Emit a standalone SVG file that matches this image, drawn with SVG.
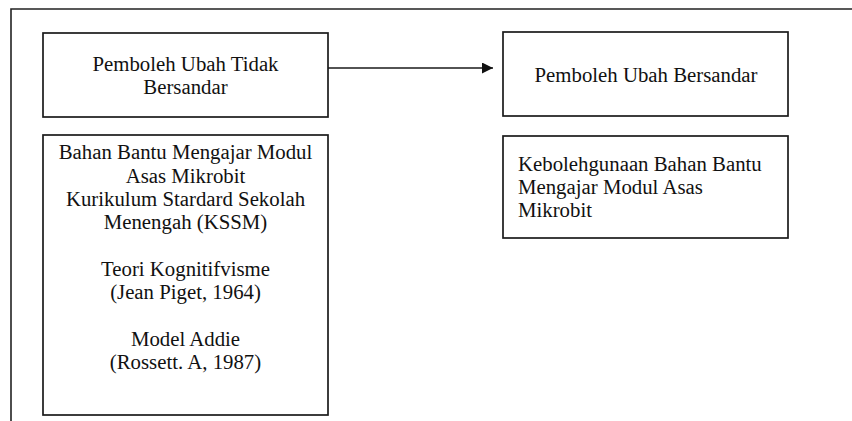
<svg xmlns="http://www.w3.org/2000/svg" width="852" height="421" viewBox="0 0 852 421">
<style>
.box{fill:#fff;stroke:#1a1a1a;stroke-width:1.7}
.frame{fill:none;stroke:#222;stroke-width:1.6}
.t{font-family:"Liberation Serif","Times New Roman",serif;font-size:20.8px;fill:#111}
.c{text-anchor:middle}
.conn{stroke:#1a1a1a;stroke-width:1.3;fill:none}
</style>
<defs>
<marker id="ah" markerWidth="11" markerHeight="11" refX="11" refY="5.5" orient="auto" markerUnits="userSpaceOnUse">
<path d="M0,0 L11,5.5 L0,11 z" fill="#111"/>
</marker>
</defs>
<rect width="852" height="421" fill="#fff"/>
<path class="frame" d="M11,421 V9 H852"/>
<g id="n1">
<rect class="box" x="43" y="33" width="285" height="84"/>
<text class="t c" x="185.5" y="71">Pemboleh Ubah Tidak</text>
<text class="t c" x="185.5" y="93.5">Bersandar</text>
</g>
<g id="n2">
<rect class="box" x="503" y="32" width="285" height="84"/>
<text class="t c" x="646" y="82">Pemboleh Ubah Bersandar</text>
</g>
<g id="n3">
<rect class="box" x="503" y="136" width="285" height="102"/>
<text class="t" x="518" y="170.7">Kebolehgunaan Bahan Bantu</text>
<text class="t" x="518" y="193.5">Mengajar Modul Asas</text>
<text class="t" x="518" y="216.5">Mikrobit</text>
</g>
<g id="n4">
<rect class="box" x="43" y="135" width="285" height="280"/>
<text class="t c" x="185.5" y="159.3">Bahan Bantu Mengajar Modul</text>
<text class="t c" x="185.5" y="182.6">Asas Mikrobit</text>
<text class="t c" x="185.5" y="205.9">Kurikulum Stardard Sekolah</text>
<text class="t c" x="185.5" y="229.2">Menengah (KSSM)</text>
<text class="t c" x="185.5" y="275.8">Teori Kognitifvisme</text>
<text class="t c" x="185.5" y="299.1">(Jean Piget, 1964)</text>
<text class="t c" x="185.5" y="345.7">Model Addie</text>
<text class="t c" x="185.5" y="369">(Rossett. A, 1987)</text>
</g>
<g id="connectors">
<line class="conn" x1="328" y1="68" x2="493" y2="68" marker-end="url(#ah)"/>
</g>
</svg>
